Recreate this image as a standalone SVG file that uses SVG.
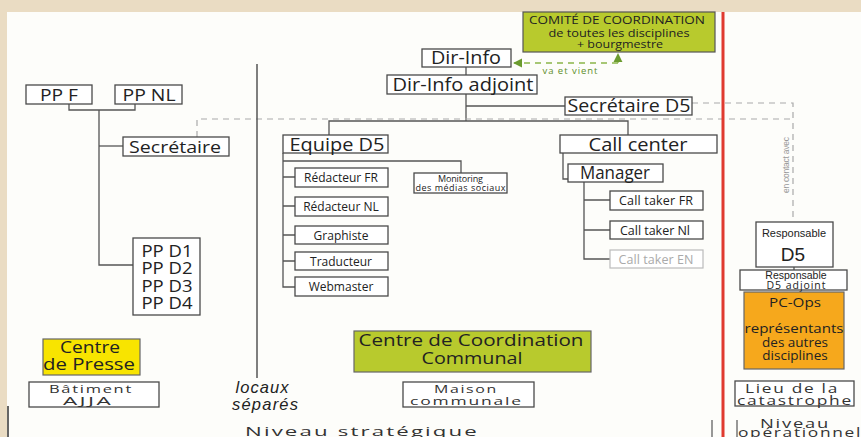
<svg xmlns="http://www.w3.org/2000/svg" width="861" height="437" viewBox="0 0 861 437">
<defs>
<style>
.box{fill:#fff;stroke:#4a4a4a;stroke-width:1.3}
.t{font-family:"Open Sans","Noto Sans",sans-serif;fill:#222;text-anchor:middle}
.s{font-family:"Open Sans","Noto Sans",sans-serif;fill:#333;text-anchor:middle;letter-spacing:1.2px}
.a{font-family:"Liberation Sans",Arial,sans-serif;fill:#222;text-anchor:middle}
.ln{fill:none;stroke:#555;stroke-width:1.3}
.dash{fill:none;stroke:#aaa;stroke-width:1.2;stroke-dasharray:6 5}
.gd{fill:none;stroke:#8ab54a;stroke-width:1.3;stroke-dasharray:6 5}
</style>
<marker id="ga" viewBox="0 0 10 10" refX="9" refY="5" markerWidth="7" markerHeight="7" orient="auto">
<path d="M0,0 L10,5 L0,10 z" fill="#6b9b2f"/>
</marker>
</defs>
<rect x="0" y="0" width="861" height="437" fill="#eadcc3"/>
<rect x="7" y="12" width="854" height="425" fill="#fdfdfa"/>

<g id="connectors">
<path class="ln" d="M69,104 V110 H135 V104"/>
<path class="ln" d="M99,110 V265 H133"/>
<path class="ln" d="M99,146 H123"/>
<path class="ln" d="M466,67 V75"/>
<path class="ln" d="M466,94 V121"/>
<path class="ln" d="M466,106 H565"/>
<path class="ln" d="M329,135 V121 H628 V135"/>
<path class="ln" d="M283,153 V287 H295"/>
<path class="ln" d="M283,161 H461 V173"/>
<path class="ln" d="M283,177 H295 M283,206 H295 M283,235 H295 M283,261 H295"/>
<path class="ln" d="M563,153 V179 H568"/>
<path class="ln" d="M584,182 V259 H610 M584,200 H610 M584,230 H610"/>
<path class="ln" d="M794,267 V270"/>
<path class="dash" d="M197,137 V119 H793"/>
<path class="dash" d="M692,103 H793 V222"/>
<path class="gd" d="M618,63 H514" marker-end="url(#ga)"/>
<path class="gd" d="M618,63 V54" marker-end="url(#ga)"/>
</g>

<g id="separators">
<line x1="257" y1="64" x2="257" y2="378" stroke="#555" stroke-width="1.5"/>
<line x1="723" y1="12" x2="723" y2="437" stroke="#e03a2f" stroke-width="3"/>
<line x1="8" y1="406" x2="8" y2="437" stroke="#333" stroke-width="1.5"/>
<line x1="712" y1="420" x2="712" y2="437" stroke="#555" stroke-width="1.2"/>
<line x1="737" y1="420" x2="737" y2="437" stroke="#555" stroke-width="1.2"/>
</g>

<g id="pp-f"><rect class="box" x="26" y="85" width="66" height="19"/><text class="t" x="59" y="100.5" font-size="17" textLength="38" lengthAdjust="spacingAndGlyphs">PP F</text></g>
<g id="pp-nl"><rect class="box" x="115" y="85" width="67" height="19"/><text class="t" x="149" y="100.5" font-size="17" textLength="53" lengthAdjust="spacingAndGlyphs">PP NL</text></g>
<g id="secretaire"><rect class="box" x="123" y="137" width="106" height="19"/><text class="t" x="175" y="152.5" font-size="17" textLength="92" lengthAdjust="spacingAndGlyphs">Secrétaire</text></g>
<g id="pp-d"><rect class="box" x="133" y="238" width="67" height="77"/>
<text class="t" x="167" y="257" font-size="17" textLength="51" lengthAdjust="spacingAndGlyphs">PP D1</text>
<text class="t" x="167" y="274" font-size="17" textLength="51" lengthAdjust="spacingAndGlyphs">PP D2</text>
<text class="t" x="167" y="292" font-size="17" textLength="51" lengthAdjust="spacingAndGlyphs">PP D3</text>
<text class="t" x="167" y="309" font-size="17" textLength="51" lengthAdjust="spacingAndGlyphs">PP D4</text></g>
<g id="centre-presse"><rect x="43" y="339" width="97" height="36" fill="#f8e400" stroke="#666" stroke-width="1.2"/>
<text class="t" x="90" y="353" font-size="17" textLength="60" lengthAdjust="spacingAndGlyphs">Centre</text>
<text class="t" x="89" y="370" font-size="17" textLength="92" lengthAdjust="spacingAndGlyphs">de Presse</text></g>
<g id="batiment"><rect class="box" x="29" y="382" width="130" height="25"/>
<text class="s" x="91" y="393" font-size="11.5" textLength="84" lengthAdjust="spacingAndGlyphs">Bâtiment</text>
<text class="s" x="88" y="404.5" font-size="11.5" textLength="50" lengthAdjust="spacingAndGlyphs">AJJA</text></g>
<g id="locaux"><text class="a" x="262" y="393" font-style="italic" font-size="16.5" textLength="53">locaux</text>
<text class="a" x="265" y="410" font-style="italic" font-size="16.5" textLength="66">séparés</text></g>

<g id="comite"><rect x="523" y="12" width="192" height="40" fill="#b8ca2d" stroke="#555" stroke-width="1.2"/>
<text class="t" x="617" y="24" font-size="11.5" textLength="176" lengthAdjust="spacingAndGlyphs">COMITÉ DE COORDINATION</text>
<text class="t" x="619" y="36.5" font-size="11.5" textLength="141" lengthAdjust="spacingAndGlyphs">de toutes les disciplines</text>
<text class="t" x="620" y="48" font-size="11.5" textLength="86" lengthAdjust="spacingAndGlyphs">+ bourgmestre</text></g>
<g id="va-et-vient"><text x="570" y="74" font-family="Open Sans,sans-serif" font-size="9.5" fill="#5d8f2a" text-anchor="middle" textLength="55">va et vient</text></g>
<g id="dir-info"><rect class="box" x="422" y="49" width="89" height="18"/><text class="t" x="466" y="64" font-size="17.5" textLength="70" lengthAdjust="spacingAndGlyphs">Dir-Info</text></g>
<g id="dir-info-adjoint"><rect class="box" x="387" y="75" width="150" height="19"/><text class="t" x="463" y="90.5" font-size="17.5" textLength="141" lengthAdjust="spacingAndGlyphs">Dir-Info adjoint</text></g>
<g id="secretaire-d5"><rect class="box" x="565" y="97" width="127" height="18"/><text class="t" x="629" y="112" font-size="17.5" textLength="123" lengthAdjust="spacingAndGlyphs">Secrétaire D5</text></g>
<g id="equipe-d5"><rect class="box" x="283" y="135" width="105" height="18"/><text class="t" x="337" y="150.5" font-size="17.5" textLength="95" lengthAdjust="spacingAndGlyphs">Equipe D5</text></g>
<g id="redacteur-fr"><rect class="box" x="295" y="168" width="93" height="19"/><text class="t" x="341" y="182" font-size="12">Rédacteur FR</text></g>
<g id="redacteur-nl"><rect class="box" x="295" y="197" width="93" height="19"/><text class="t" x="341" y="211" font-size="12">Rédacteur NL</text></g>
<g id="graphiste"><rect class="box" x="295" y="226" width="93" height="18"/><text class="t" x="341" y="239.5" font-size="12">Graphiste</text></g>
<g id="traducteur"><rect class="box" x="295" y="252" width="93" height="18"/><text class="t" x="341" y="265.5" font-size="12">Traducteur</text></g>
<g id="webmaster"><rect class="box" x="295" y="277" width="93" height="19"/><text class="t" x="341" y="291" font-size="12">Webmaster</text></g>
<g id="monitoring"><rect class="box" x="414" y="173" width="93" height="20"/>
<text class="t" x="460.5" y="182" font-size="9" textLength="45">Monitoring</text>
<text class="t" x="460.5" y="190.5" font-size="9" textLength="90">des médias sociaux</text></g>
<g id="call-center"><rect class="box" x="560" y="135" width="157" height="18"/><text class="t" x="638" y="150.5" font-size="17.5" textLength="99" lengthAdjust="spacingAndGlyphs">Call center</text></g>
<g id="manager"><rect class="box" x="568" y="164" width="95" height="18"/><text class="t" x="615" y="179" font-size="17.5" textLength="70" lengthAdjust="spacingAndGlyphs">Manager</text></g>
<g id="call-taker-fr"><rect class="box" x="610" y="191" width="93" height="19"/><text class="t" x="656" y="205" font-size="12.5" textLength="74">Call taker FR</text></g>
<g id="call-taker-nl"><rect class="box" x="610" y="221" width="93" height="18"/><text class="t" x="655" y="234.5" font-size="12.5" textLength="70">Call taker Nl</text></g>
<g id="call-taker-en"><rect x="610" y="250" width="93" height="18" fill="#fff" stroke="#bbb" stroke-width="1.2"/><text class="t" x="656" y="263.5" font-size="12.5" textLength="75" style="fill:#aaa">Call taker EN</text></g>
<g id="centre-coordination"><rect x="354" y="331" width="237" height="41" fill="#b8ca2d" stroke="#666" stroke-width="1.2"/>
<text class="t" x="471" y="346" font-size="17" textLength="225" lengthAdjust="spacingAndGlyphs">Centre de Coordination</text>
<text class="t" x="472" y="364" font-size="17" textLength="101" lengthAdjust="spacingAndGlyphs">Communal</text></g>
<g id="maison"><rect class="box" x="403" y="382" width="131" height="25"/>
<text class="s" x="466" y="393" font-size="11.5" textLength="64" lengthAdjust="spacingAndGlyphs">Maison</text>
<text class="s" x="466.5" y="404.5" font-size="11.5" textLength="113" lengthAdjust="spacingAndGlyphs">communale</text></g>
<g id="niveau-strategique"><text class="s" x="362" y="436" font-size="12.5" textLength="234" lengthAdjust="spacingAndGlyphs">Niveau stratégique</text></g>

<g id="en-contact"><text transform="translate(789,165) rotate(-90)" x="0" y="0" font-family="Liberation Sans,Arial,sans-serif" font-size="8.5" fill="#999" text-anchor="middle" textLength="56">en contact avec</text></g>
<g id="responsable-d5"><rect class="box" x="756" y="222" width="77" height="45"/>
<text class="a" x="794" y="237" font-size="11">Responsable</text>
<text class="a" x="793" y="261" font-size="19">D5</text></g>
<g id="responsable-adjoint"><rect class="box" x="740" y="270" width="107" height="20"/>
<text class="a" x="796" y="278.5" font-size="10.5">Responsable</text>
<text class="t" x="796" y="288.5" font-size="10.5" textLength="59">D5 adjoint</text></g>
<g id="pc-ops"><rect x="744" y="292" width="100" height="77" fill="#f6a81c" stroke="#666" stroke-width="1.2"/>
<text class="t" x="795" y="307" font-size="13.5" textLength="52" lengthAdjust="spacingAndGlyphs">PC-Ops</text>
<text class="t" x="794" y="333" font-size="13.5" textLength="99" lengthAdjust="spacingAndGlyphs">représentants</text>
<text class="t" x="795" y="346.5" font-size="13.5">des autres</text>
<text class="t" x="795" y="360" font-size="13.5">disciplines</text></g>
<g id="lieu"><rect class="box" x="735" y="381" width="119" height="25"/>
<text class="s" x="792" y="392.5" font-size="12" textLength="94" lengthAdjust="spacingAndGlyphs">Lieu de la</text>
<text class="s" x="795" y="404.5" font-size="12" textLength="116" lengthAdjust="spacingAndGlyphs">catastrophe</text></g>
<g id="niveau-operationnel"><text class="s" x="795" y="428" font-size="12.5" textLength="70" lengthAdjust="spacingAndGlyphs">Niveau</text>
<text class="s" x="800" y="437" font-size="12.5" textLength="124" lengthAdjust="spacingAndGlyphs">opérationnel</text></g>
</svg>
